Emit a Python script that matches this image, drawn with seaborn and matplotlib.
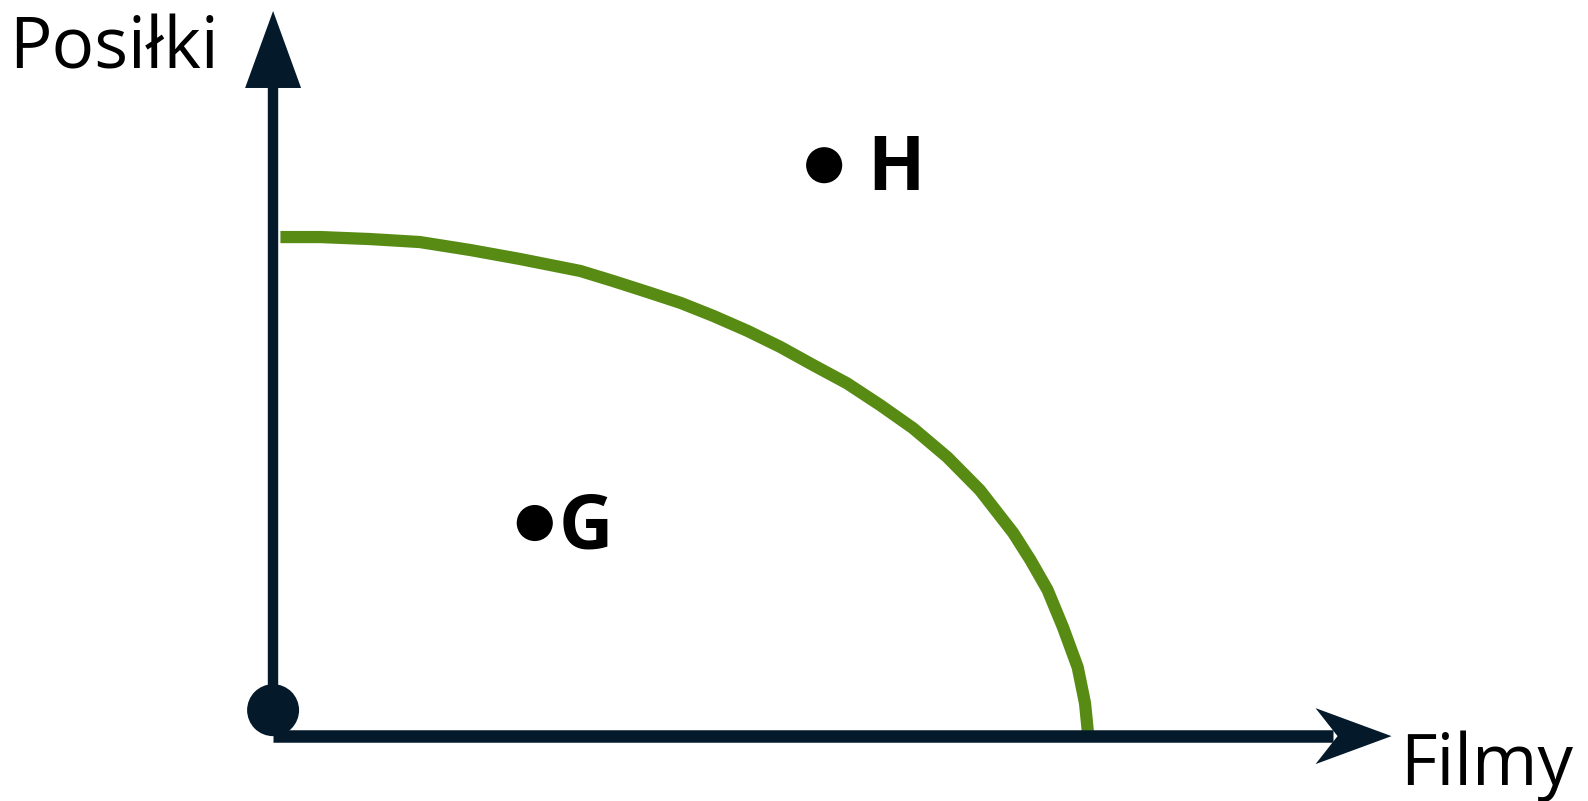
import matplotlib
matplotlib.use('Agg')
import matplotlib.pyplot as plt
import matplotlib.transforms as mtransforms
from matplotlib.patches import Polygon
import pandas as pd
import seaborn as sns

# production possibilities frontier
filmy = [0.09, 0.58, 1.19, 1.80, 2.42, 3.03, 3.77, 4.17, 4.59, 5.00, 5.40, 5.82, 6.22,
         6.63, 7.04, 7.45, 7.85, 8.27, 8.67, 9.08, 9.29, 9.50, 9.69, 9.87, 9.96, 10.0]
posilki = [10.0, 10.0, 9.96, 9.90, 9.74, 9.56, 9.32, 9.12, 8.90, 8.68, 8.42, 8.12, 7.80,
           7.43, 7.07, 6.63, 6.17, 5.59, 4.93, 4.07, 3.53, 2.93, 2.18, 1.38, 0.66, 0.0]

# labelled points
punkty = ['G', 'H']
punkty_filmy = [3.21, 6.76]
punkty_posilki = [4.27, 11.44]

# origin marker
start_filmy = [0.0]
start_posilki = [0.52]

NAVY = '#041a2b'
GREEN = '#588b14'

sns.set_style('white')
plt.rcParams['font.family'] = ['Open Sans', 'DejaVu Sans']

fig = plt.figure(figsize=(15.88, 8.01), dpi=100)
ax = fig.add_axes([0, 0, 1, 1])
ax.set_xlim(-3.35, 16.13)
ax.set_ylim(-1.30, 14.75)
ax.axis('off')

frontier = pd.DataFrame({'Filmy': filmy, 'Posiłki': posilki})
sns.lineplot(data=frontier, x='Filmy', y='Posiłki', sort=False, estimator=None,
             color=GREEN, ax=ax, zorder=2)
curve = ax.lines[-1]
curve.set_linewidth(8.8)
curve.set_solid_capstyle('butt')
curve.set_solid_joinstyle('round')


def head(x, y, pts):
    # arrow head drawn in pixel offsets around a data-space tip
    trans = mtransforms.IdentityTransform() + mtransforms.ScaledTranslation(x, y, ax.transData)
    ax.add_patch(Polygon(pts, closed=True, transform=trans, facecolor=NAVY,
                         edgecolor='none', zorder=4))


# axes
ax.plot([0, 13.0], [0, 0], color=NAVY, linewidth=9, solid_capstyle='butt', zorder=3)
head(13.72, 0, [(0, 0), (-76, 28), (-54, 0), (-76, -28)])
ax.plot([0, 0], [0.5, 13.1], color=NAVY, linewidth=7.5, solid_capstyle='butt', zorder=3)
head(0, 14.53, [(0, 0), (-28, -77), (28, -77)])

sns.scatterplot(x=start_filmy, y=start_posilki, s=1400, color=NAVY,
                edgecolor='none', ax=ax, zorder=5)

sns.scatterplot(x=punkty_filmy, y=punkty_posilki, s=676, color='black',
                edgecolor='none', ax=ax, zorder=5)
offsets = {'G': (17, -18), 'H': (31, -18)}
for name, fx, py in zip(punkty, punkty_filmy, punkty_posilki):
    ax.annotate(name, (fx, py), xytext=offsets[name], textcoords='offset points',
                ha='left', va='baseline', fontsize=54, fontweight='bold', color='black')

ax.text(-3.24, 13.37, 'Posiłki', fontsize=51, ha='left', va='baseline', color='black')
ax.text(13.82, -0.98, 'Filmy', fontsize=51, ha='left', va='baseline', color='black')

fig.savefig('out.png', dpi=100, facecolor='white')
